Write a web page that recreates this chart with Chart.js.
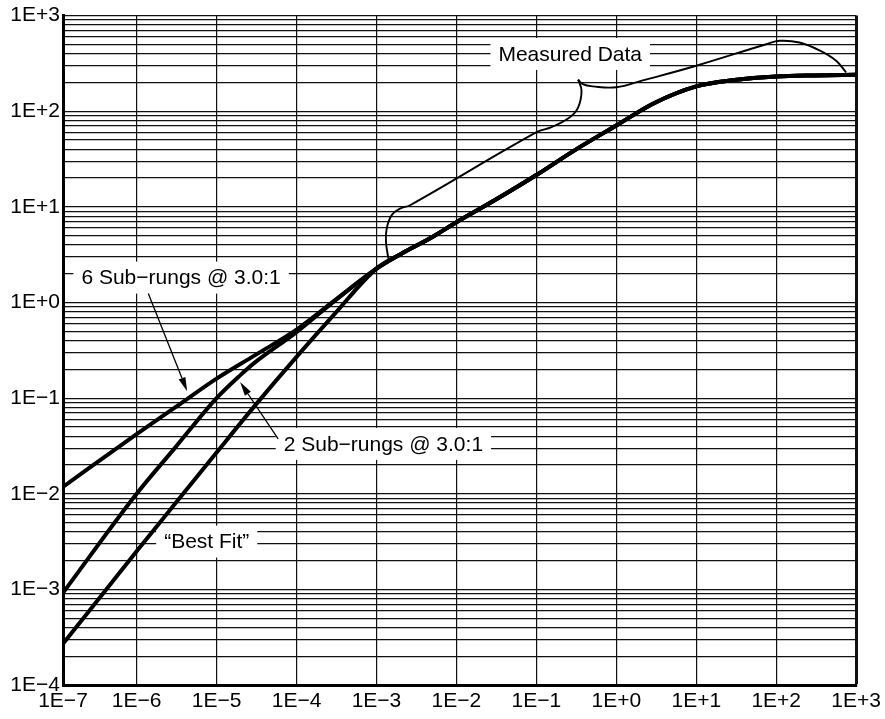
<!DOCTYPE html>
<html><head><meta charset="utf-8">
<script src="https://cdn.jsdelivr.net/npm/chart.js@4.4.1/dist/chart.umd.min.js"></script>
<style>html,body{margin:0;padding:0;background:#fff}#wrap{width:885px;height:719px;position:relative}</style>
</head><body><div id="wrap"><canvas id="c" width="885" height="719"></canvas></div>
<script>
// ---- axes ----
const X_MIN = 1.2e-7, X_MAX = 1e3, Y_MIN = 1e-4, Y_MAX = 1e3;
const xTickValues = [1.2e-7, 1e-6, 1e-5, 1e-4, 1e-3, 1e-2, 1e-1, 1e0, 1e1, 1e2, 1e3];
const xTickLabels = ['1E\u22127','1E\u22126','1E\u22125','1E\u22124','1E\u22123','1E\u22122','1E\u22121','1E+0','1E+1','1E+2','1E+3'];
const yDecadeValues = [1e-4, 1e-3, 1e-2, 1e-1, 1e0, 1e1, 1e2, 1e3];
const yTickLabels = ['1E\u22124','1E\u22123','1E\u22122','1E\u22121','1E+0','1E+1','1E+2','1E+3'];
const yMinorSteps = [1, 2, 3, 4, 5, 6, 7, 8, 9];

// ---- data ----
const sharedX = [1e-3, 2e-3, 5e-3, 1e-2, 3e-2, 1e-1, 3e-1, 1, 3, 10, 30, 100, 300, 1000];
const sharedY = [2.26, 3.2, 4.85, 6.9, 11.7, 21.5, 39, 71, 122, 182, 212, 231, 237, 240];

const sixRungX = [1.2e-7, 1e-6, 3e-6, 1e-5, 3e-5, 1e-4, 3e-4];
const sixRungY = [0.0118, 0.042, 0.0794, 0.16, 0.28, 0.52, 1.05];

const twoRungX = [1.2e-7, 1e-6, 3e-6, 1e-5, 2e-5, 3e-5, 1e-4, 3e-4];
const twoRungY = [9.2e-4, 0.0100, 0.030, 0.10, 0.175, 0.235, 0.49, 1.04];

const bestFitX = [1.2e-7, 1e-6, 3e-6, 1e-5, 3e-5, 1e-4, 3e-4];
const bestFitY = [2.7e-4, 2.5e-3, 7.8e-3, 0.027, 0.083, 0.27, 0.76];

// "Measured Data" brace (two strokes meeting at the cusp)
const braceLeftX = [1.406e-3, 1.315e-3, 1.342e-3, 1.549e-3, 1.97e-3, 2.63e-3, 0.1005, 0.1545, 0.262, 0.333, 0.367, 0.333];
const braceLeftY = [2.89, 4.32, 5.94, 8.2, 9.6, 10.4, 60.4, 68.1, 86.6, 110, 164, 214];
const braceRightX = [0.333, 0.380, 0.507, 1.0, 2.14, 10.0, 75, 110, 195, 348, 561, 748];
const braceRightY = [214, 192, 182, 178, 210, 299, 502, 545, 523, 432, 337, 255];

// annotation labels (centre, data coords)
const labelTexts = ['Measured Data', '6 Sub\u2212rungs @ 3.0:1', '2 Sub\u2212rungs @ 3.0:1', '\u201CBest Fit\u201D'];
const labelX = [0.265, 3.6e-6, 1.22e-3, 7.53e-6];
const labelY = [397, 1.82, 0.0332, 3.16e-3];

// arrows (from -> to, data coords)
const arrowFromX = [1.40e-6, 5.89e-5];
const arrowFromY = [1.24, 0.0374];
const arrowToX = [4.29e-6, 1.97e-5];
const arrowToY = [0.118, 0.147];

const zip = (xs, ys) => xs.map((v, i) => ({x: v, y: ys[i]}));
const FONT = '"Liberation Sans", Arial, sans-serif';

const curve = (xs, ys) => ({
  data: zip(xs.concat(sharedX), ys.concat(sharedY)),
  showLine: true, borderColor: '#000', borderWidth: 4, pointRadius: 0,
  cubicInterpolationMode: 'monotone', fill: false, borderJoinStyle: 'round'
});
const brace = (xs, ys) => ({
  data: zip(xs, ys), showLine: true, borderColor: '#000', borderWidth: 1.9,
  pointRadius: 0, tension: 0.4, fill: false
});

const annot = {
  id: 'annot',
  // white label boxes sit over the grid but under the curves
  beforeDatasetsDraw(chart) {
    const {ctx} = chart; const xs = chart.scales.x, ys = chart.scales.y;
    ctx.save();
    ctx.font = '21px ' + FONT; ctx.textAlign = 'center'; ctx.textBaseline = 'middle';
    for (let i = 0; i < labelTexts.length; i++) {
      const cx = xs.getPixelForValue(labelX[i]), cy = ys.getPixelForValue(labelY[i]);
      const w = ctx.measureText(labelTexts[i]).width + 16;
      ctx.fillStyle = '#fff'; ctx.fillRect(cx - w / 2, cy - 16, w, 32);
      ctx.fillStyle = '#000'; ctx.fillText(labelTexts[i], cx, cy + 1);
    }
    ctx.restore();
  },
  afterDatasetsDraw(chart) {
    const {ctx} = chart; const xs = chart.scales.x, ys = chart.scales.y;
    ctx.save();
    ctx.strokeStyle = '#000'; ctx.fillStyle = '#000'; ctx.lineWidth = 1.3;
    for (let i = 0; i < arrowFromX.length; i++) {
      const x1 = xs.getPixelForValue(arrowFromX[i]), y1 = ys.getPixelForValue(arrowFromY[i]);
      const x2 = xs.getPixelForValue(arrowToX[i]), y2 = ys.getPixelForValue(arrowToY[i]);
      const a = Math.atan2(y2 - y1, x2 - x1), L = 14, W = 3.6;
      const bx = x2 - L * Math.cos(a), by = y2 - L * Math.sin(a);
      ctx.beginPath(); ctx.moveTo(x1, y1); ctx.lineTo(bx, by); ctx.stroke();
      ctx.beginPath(); ctx.moveTo(x2, y2);
      ctx.lineTo(bx + W * Math.sin(a), by - W * Math.cos(a));
      ctx.lineTo(bx - W * Math.sin(a), by + W * Math.cos(a));
      ctx.closePath(); ctx.fill();
    }
    ctx.restore();
  }
};

new Chart(document.getElementById('c'), {
  type: 'scatter',
  data: { datasets: [
    curve(sixRungX, sixRungY), curve(twoRungX, twoRungY), curve(bestFitX, bestFitY),
    brace(braceLeftX, braceLeftY), brace(braceRightX, braceRightY)
  ]},
  options: {
    responsive: false, animation: false, devicePixelRatio: 1,
    layout: { padding: { top: 13, right: 28, left: 0, bottom: 0 } },
    plugins: { legend: { display: false }, tooltip: { enabled: false } },
    scales: {
      x: {
        type: 'logarithmic', min: X_MIN, max: X_MAX,
        afterBuildTicks: s => { s.ticks = xTickValues.map(v => ({value: v})); },
        afterFit: s => { s.height = 34; },
        ticks: { autoSkip: false, maxRotation: 0, color: '#000', padding: 4,
          font: { family: FONT, size: 21 },
          callback: (v, i) => xTickLabels[i] },
        grid: { color: '#111', drawTicks: false,
          lineWidth: c => (c.index === xTickValues.length - 1 ? 3 : 1.2) },
        border: { display: true, color: '#000', width: 3 }
      },
      y: {
        type: 'logarithmic', min: Y_MIN, max: Y_MAX,
        afterBuildTicks: s => {
          const t = [];
          for (let d = 0; d < yDecadeValues.length - 1; d++)
            for (const k of yMinorSteps) t.push({value: k * yDecadeValues[d]});
          t.push({value: Y_MAX});
          s.ticks = t;
        },
        afterFit: s => { s.width = 63; },
        ticks: { autoSkip: false, color: '#000', padding: 3,
          font: { family: FONT, size: 21 },
          callback: v => {
            const i = yDecadeValues.findIndex(d => Math.abs(Math.log10(d) - Math.log10(v)) < 1e-6);
            return i >= 0 ? yTickLabels[i] : '';
          } },
        grid: { color: '#111', drawTicks: false, lineWidth: 1.2 },
        border: { display: true, color: '#000', width: 3 }
      }
    }
  },
  plugins: [annot]
});
</script></body></html>
